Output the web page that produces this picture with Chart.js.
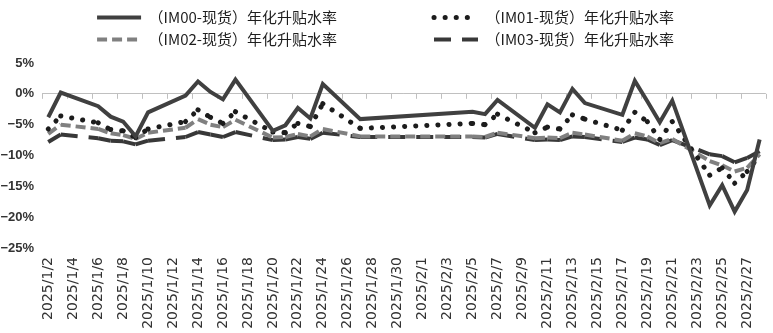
<!DOCTYPE html>
<html>
<head>
<meta charset="utf-8">
<script src="https://cdn.jsdelivr.net/npm/chart.js@4.4.1/dist/chart.umd.min.js"></script>
<style>
  html, body { margin: 0; padding: 0; background: #fff; }
  #wrap { width: 773px; height: 333px; }
</style>
</head>
<body>
<div id="wrap"><canvas id="chart"></canvas></div>
<script>
// calendar axis, one slot per day, labels shown every other day
const calendarDays = [
  '2025/1/2', '2025/1/3', '2025/1/4', '2025/1/5', '2025/1/6', '2025/1/7', '2025/1/8', '2025/1/9', '2025/1/10',
  '2025/1/11', '2025/1/12', '2025/1/13', '2025/1/14', '2025/1/15', '2025/1/16', '2025/1/17', '2025/1/18',
  '2025/1/19', '2025/1/20', '2025/1/21', '2025/1/22', '2025/1/23', '2025/1/24', '2025/1/25', '2025/1/26',
  '2025/1/27', '2025/1/28', '2025/1/29', '2025/1/30', '2025/1/31',
  '2025/2/1', '2025/2/2', '2025/2/3', '2025/2/4', '2025/2/5', '2025/2/6', '2025/2/7', '2025/2/8', '2025/2/9',
  '2025/2/10', '2025/2/11', '2025/2/12', '2025/2/13', '2025/2/14', '2025/2/15', '2025/2/16', '2025/2/17',
  '2025/2/18', '2025/2/19', '2025/2/20', '2025/2/21', '2025/2/22', '2025/2/23', '2025/2/24', '2025/2/25',
  '2025/2/26', '2025/2/27', '2025/2/28',
];

const tradingDays = [
  '2025/1/2', '2025/1/3', '2025/1/6', '2025/1/7', '2025/1/8', '2025/1/9', '2025/1/10',
  '2025/1/13', '2025/1/14', '2025/1/15', '2025/1/16', '2025/1/17',
  '2025/1/20', '2025/1/21', '2025/1/22', '2025/1/23', '2025/1/24', '2025/1/27',
  '2025/2/5', '2025/2/6', '2025/2/7',
  '2025/2/10', '2025/2/11', '2025/2/12', '2025/2/13', '2025/2/14',
  '2025/2/17', '2025/2/18', '2025/2/19', '2025/2/20', '2025/2/21',
  '2025/2/24', '2025/2/25', '2025/2/26', '2025/2/27', '2025/2/28',
];

const im00 = [-3.8, 0.2, -2.0, -3.7, -4.5, -6.9, -3.0, -0.3, 2.0, 0.3, -0.9, 2.3,
  -6.0, -5.1, -2.3, -4.0, 1.6, -4.1, -2.9, -3.3, -1.0,
  -5.5, -1.7, -3.0, 0.8, -1.5, -3.4, 2.1, -1.2, -4.6, -1.1,
  -18.1, -14.8, -19.1, -15.6, -7.4];
const im01 = [-5.7, -3.6, -4.7, -5.8, -6.0, -7.1, -5.7, -4.5, -2.6, -3.8, -4.8, -2.9,
  -6.2, -6.3, -4.8, -5.3, -1.6, -5.6, -4.8, -5.0, -3.3,
  -6.3, -5.4, -5.7, -3.4, -4.1, -5.9, -3.0, -4.5, -7.4, -4.5,
  -13.2, -12.0, -14.5, -12.6, -10.0];
const im02 = [-6.5, -5.0, -5.7, -6.4, -6.7, -7.3, -6.3, -5.5, -4.1, -5.0, -5.4, -4.2,
  -7.1, -7.0, -6.5, -6.9, -5.7, -6.9, -6.9, -7.0, -6.3,
  -7.2, -7.1, -7.2, -6.3, -6.6, -7.6, -6.4, -6.9, -8.0, -7.3,
  -10.9, -11.6, -12.6, -12.0, -9.8];
const im03 = [-7.8, -6.6, -7.2, -7.6, -7.7, -8.2, -7.6, -7.0, -6.2, -6.6, -7.0, -6.2,
  -7.5, -7.4, -7.0, -7.3, -6.3, -7.0, -7.0, -7.1, -6.5,
  -7.5, -7.4, -7.5, -6.9, -7.0, -7.8, -7.1, -7.4, -8.3, -7.5,
  -9.8, -10.1, -11.1, -10.4, -9.3];

const seriesNames = [
  '（IM00-现货）年化升贴水率',
  '（IM01-现货）年化升贴水率',
  '（IM02-现货）年化升贴水率',
  '（IM03-现货）年化升贴水率',
];

// pad the left-column legend entries so the legend lays out as two columns
const colPad = '\u3000'.repeat(6);

function toPoints(values) {
  return values.map((v, i) => ({ x: tradingDays[i], y: v }));
}

// restart the dash pattern on every segment, like the original chart does
const dashPerSegment = { borderDashOffset: (ctx) => ctx.p0DataIndex * 0.001 };

const datasets = [
  {
    label: seriesNames[0] + colPad,
    data: toPoints(im00),
    borderColor: '#404040',
    backgroundColor: '#404040',
    borderWidth: 4,
  },
  {
    label: seriesNames[1],
    data: toPoints(im01),
    borderColor: '#1c1c1c',
    backgroundColor: '#1c1c1c',
    borderWidth: 5,
    borderDash: [0.1, 11],
    borderCapStyle: 'round',
    segment: dashPerSegment,
  },
  {
    label: seriesNames[2] + colPad,
    data: toPoints(im02),
    borderColor: '#808080',
    backgroundColor: '#808080',
    borderWidth: 4,
    borderDash: [10, 5],
    segment: dashPerSegment,
  },
  {
    label: seriesNames[3],
    data: toPoints(im03),
    borderColor: '#383838',
    backgroundColor: '#383838',
    borderWidth: 4,
    borderDash: [17, 11],
    segment: dashPerSegment,
  },
];

const zeroTicks = {
  id: 'zeroTicks',
  beforeLayout(chart) {
    // a little space between the legend and the plot
    const lg = chart.legend;
    if (lg && !lg._gapPatched) {
      const fit = lg.fit;
      lg.fit = function () {
        fit.call(this);
        this.height += 6;
      };
      lg._gapPatched = true;
    }
  },
  beforeDatasetsDraw(chart) {
    const { ctx } = chart;
    const xs = chart.scales.x;
    const y0 = chart.scales.y.getPixelForValue(0);
    const half = (xs.getPixelForValue(1) - xs.getPixelForValue(0)) / 2;
    ctx.save();
    ctx.strokeStyle = '#c0c0c0';
    ctx.lineWidth = 1;
    for (let i = 0; i <= calendarDays.length; i += 2) {
      const px = Math.round(xs.getPixelForValue(i) - half) + 0.5;
      ctx.beginPath();
      ctx.moveTo(px, y0);
      ctx.lineTo(px, y0 + 5);
      ctx.stroke();
    }
    ctx.restore();
  },
};

new Chart(document.getElementById('chart'), {
  type: 'line',
  data: { labels: calendarDays, datasets },
  plugins: [zeroTicks],
  options: {
    responsive: true,
    maintainAspectRatio: false,
    animation: false,
    layout: { padding: { top: 3, right: 2, left: 0, bottom: 0 } },
    elements: {
      point: { radius: 0 },
      line: { tension: 0 },
    },
    plugins: {
      tooltip: { enabled: false },
      legend: {
        position: 'top',
        labels: {
          usePointStyle: true,
          pointStyle: 'line',
          pointStyleWidth: 44,
          padding: 7,
          color: '#1e1e1e',
          font: { family: '"Noto Sans CJK SC", sans-serif', size: 15 },
          generateLabels(chart) {
            const items = Chart.defaults.plugins.legend.labels.generateLabels(chart);
            return items.map((item) => {
              const ds = chart.data.datasets[item.datasetIndex];
              return {
                ...item,
                lineDash: ds.borderDash || [],
                lineCap: ds.borderCapStyle || 'butt',
                lineWidth: ds.borderWidth,
                strokeStyle: ds.borderColor,
              };
            });
          },
        },
      },
    },
    scales: {
      x: {
        type: 'category',
        offset: true,
        grid: { display: false, drawTicks: false },
        border: { display: false },
        afterFit: (scale) => { scale.height = 85; },
        ticks: {
          autoSkip: false,
          maxRotation: 90,
          minRotation: 90,
          padding: 9,
          color: '#333',
          font: { family: '"DejaVu Sans", sans-serif', size: 14 },
          callback: (value, index) => (index % 2 === 0 ? calendarDays[index] : null),
        },
      },
      y: {
        min: -25,
        max: 5,
        grid: {
          drawTicks: false,
          color: (ctx) => (ctx.tick && ctx.tick.value === 0 ? '#c0c0c0' : 'rgba(0,0,0,0)'),
        },
        border: { display: false },
        afterFit: (scale) => { scale.width = 42; },
        ticks: {
          stepSize: 5,
          padding: 8,
          color: '#333',
          font: { family: '"Liberation Sans", Arial, sans-serif', size: 13, weight: 'bold' },
          callback: (v) => (v < 0 ? '\u2212' + Math.abs(v) : String(v)) + '%',
        },
      },
    },
  },
});
</script>
</body>
</html>
